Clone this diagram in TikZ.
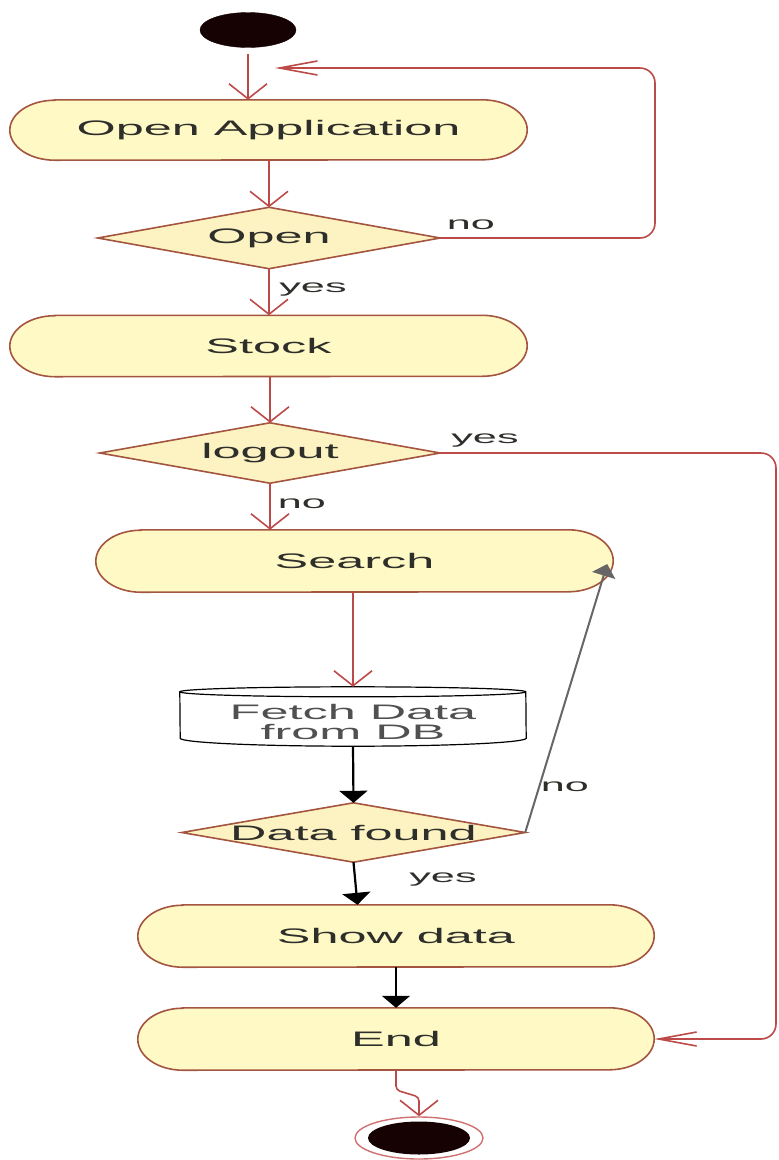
\documentclass[tikz,border=0pt]{standalone}
\usepackage{graphicx}
\usepackage{fontspec}
\setmainfont{Liberation Sans}
\usetikzlibrary{arrows.meta,shapes.geometric,backgrounds,calc}
\definecolor{actfill}{HTML}{FFF9C6}
\definecolor{decfill}{HTML}{FCF2C2}
\definecolor{actedge}{HTML}{A4553F}
\definecolor{flow}{HTML}{BC4A48}
\definecolor{ink}{HTML}{2E2E2A}
\definecolor{dbink}{HTML}{505050}
\definecolor{blob}{HTML}{160202}
\definecolor{finaledge}{HTML}{D07070}
\newcommand\W[1]{\scalebox{2.4}[1]{#1}}
\newcommand\stadiumedge[2]{%
  \begin{pgfonlayer}{background}
  \filldraw[fill=actfill, draw=actedge, line width=1.6pt]
    ([xshift=45pt]#1.north west) -- ([xshift=-45pt]#1.north east)
    arc[start angle=90, end angle=-90, x radius=45pt, y radius=#2]
    -- ([xshift=45pt]#1.south west)
    arc[start angle=270, end angle=90, x radius=45pt, y radius=#2] -- cycle;
  \end{pgfonlayer}}
\newcommand\diamondedge[1]{%
  \begin{pgfonlayer}{background}
  \filldraw[fill=decfill, draw=actedge, line width=1.6pt]
    (#1.west) -- (#1.north) -- (#1.east) -- (#1.south) -- cycle;
  \end{pgfonlayer}}
\tikzset{
  actbox/.style={rectangle, inner sep=0pt, font=\fontsize{21}{24}\selectfont, text=ink},
  lbltext/.style={inner sep=0pt, font=\fontsize{18}{20}\selectfont, text=ink},
  flowline/.style={draw=flow, line width=1.6pt},
  vbarb/.style={-{Straight Barb[length=15pt,width=38pt]}},
  hbarb/.style={-{Straight Barb[length=38pt,width=14pt]}},
  blackline/.style={draw=black, line width=2.2pt, -{Triangle[length=12pt,width=28pt]}},
}
\begin{document}
\begin{tikzpicture}[x=1pt,y=1pt]
\useasboundingbox (0,0) rectangle (779,-1160);

% nodes
\node[ellipse, fill=blob, draw=blob, minimum width=96pt, minimum height=35pt, inner sep=0pt] (start) at (248,-30) {};
\node[actbox, minimum width=517pt, minimum height=60pt] (oa) at (268.5,-130) {\W{Open Application}};
\stadiumedge{oa}{30pt}
\node[actbox, minimum width=342pt, minimum height=61pt] (open) at (269,-238) {\W{Open}};
\diamondedge{open}
\node[actbox, minimum width=517pt, minimum height=61pt] (stock) at (268.5,-346) {\W{Stock}};
\stadiumedge{stock}{30.5pt}
\node[actbox, minimum width=340pt, minimum height=60pt] (logout) at (270,-453) {\W{logout}};
\diamondedge{logout}
\node[actbox, minimum width=517pt, minimum height=62pt] (search) at (354.5,-561) {\W{Search}};
\stadiumedge{search}{31pt}
\node[actbox, text=dbink, minimum width=346pt, minimum height=59pt] (fetch) at (353,-716.5)
  {\raisebox{-13pt}[0pt][0pt]{\begin{tabular}{@{}c@{}}\W{Fetch Data}\\[-4pt]\W{from DB}\end{tabular}}};
\begin{pgfonlayer}{background}
  \filldraw[fill=white, draw=black, line width=1.2pt]
    ([yshift=-5pt]fetch.north west) arc[start angle=180, end angle=0, x radius=173pt, y radius=5pt]
    -- ([yshift=8pt]fetch.south east) arc[start angle=0, end angle=-180, x radius=173pt, y radius=8pt] -- cycle;
  \draw[black, line width=1.2pt] ([yshift=-5pt]fetch.north west) arc[start angle=180, end angle=360, x radius=173pt, y radius=5pt];
\end{pgfonlayer}
\node[actbox, minimum width=343pt, minimum height=59pt] (found) at (353.5,-832.5) {\W{Data found}};
\diamondedge{found}
\node[actbox, minimum width=516pt, minimum height=62pt] (show) at (396,-936) {\W{Show data}};
\stadiumedge{show}{31pt}
\node[actbox, minimum width=516pt, minimum height=62pt] (end) at (396,-1039) {\W{End}};
\stadiumedge{end}{31pt}
\node[ellipse, draw=finaledge, fill=white, line width=1.4pt, minimum width=128pt, minimum height=42pt, inner sep=0pt] (final) at (419,-1138) {};
\fill[blob] (final.center) ellipse[x radius=51pt, y radius=16.5pt];

% labels
\node[lbltext] (lno1) at (471,-225) {\W{no}};
\node[lbltext] (lyes1) at (313,-290) {\W{yes}};
\node[lbltext] (lyes2) at (485,-441) {\W{yes}};
\node[lbltext] (lno2) at (302,-504) {\W{no}};
\node[lbltext] (lno3) at (565,-787) {\W{no}};
\node[lbltext] (lyes3) at (443,-880) {\W{yes}};

% connectors
\coordinate (merge) at (275,-68);
\draw[flowline, vbarb, shorten <=6pt] (start.south) -- (start.south |- oa.north);
\draw[flowline, vbarb] (open.north |- oa.south) -- (open.north);
\draw[flowline, hbarb, rounded corners=15pt] (open.east) -- (655,-238) -- (655,-68) -- (merge);
\draw[flowline, vbarb] (open.south) -- (open.south |- stock.north);
\draw[flowline, vbarb] (logout.north |- stock.south) -- (logout.north);
\draw[flowline, hbarb, rounded corners=15pt] (logout.east) -- (776,-453) -- (776,-1039) -- (end.east);
\draw[flowline, vbarb] (logout.south) -- (logout.south |- search.north);
\draw[flowline, vbarb] (fetch.north |- search.south) -- (fetch.north);
\draw[blackline] (fetch.south) -- (found.north);
\draw[draw=black!60, line width=2pt, -{Triangle[length=12pt,width=24pt]}] (found.east) -- ([xshift=-6pt,yshift=-3pt]search.east);
\draw[blackline] (found.south) -- ([xshift=4pt]found.south |- show.north);
\draw[blackline] (show.south) -- (end.north);
\draw[flowline, vbarb, rounded corners=4pt] (end.south) -- (396,-1090) -- (419,-1097) -- (final.north);
\end{tikzpicture}
\end{document}
